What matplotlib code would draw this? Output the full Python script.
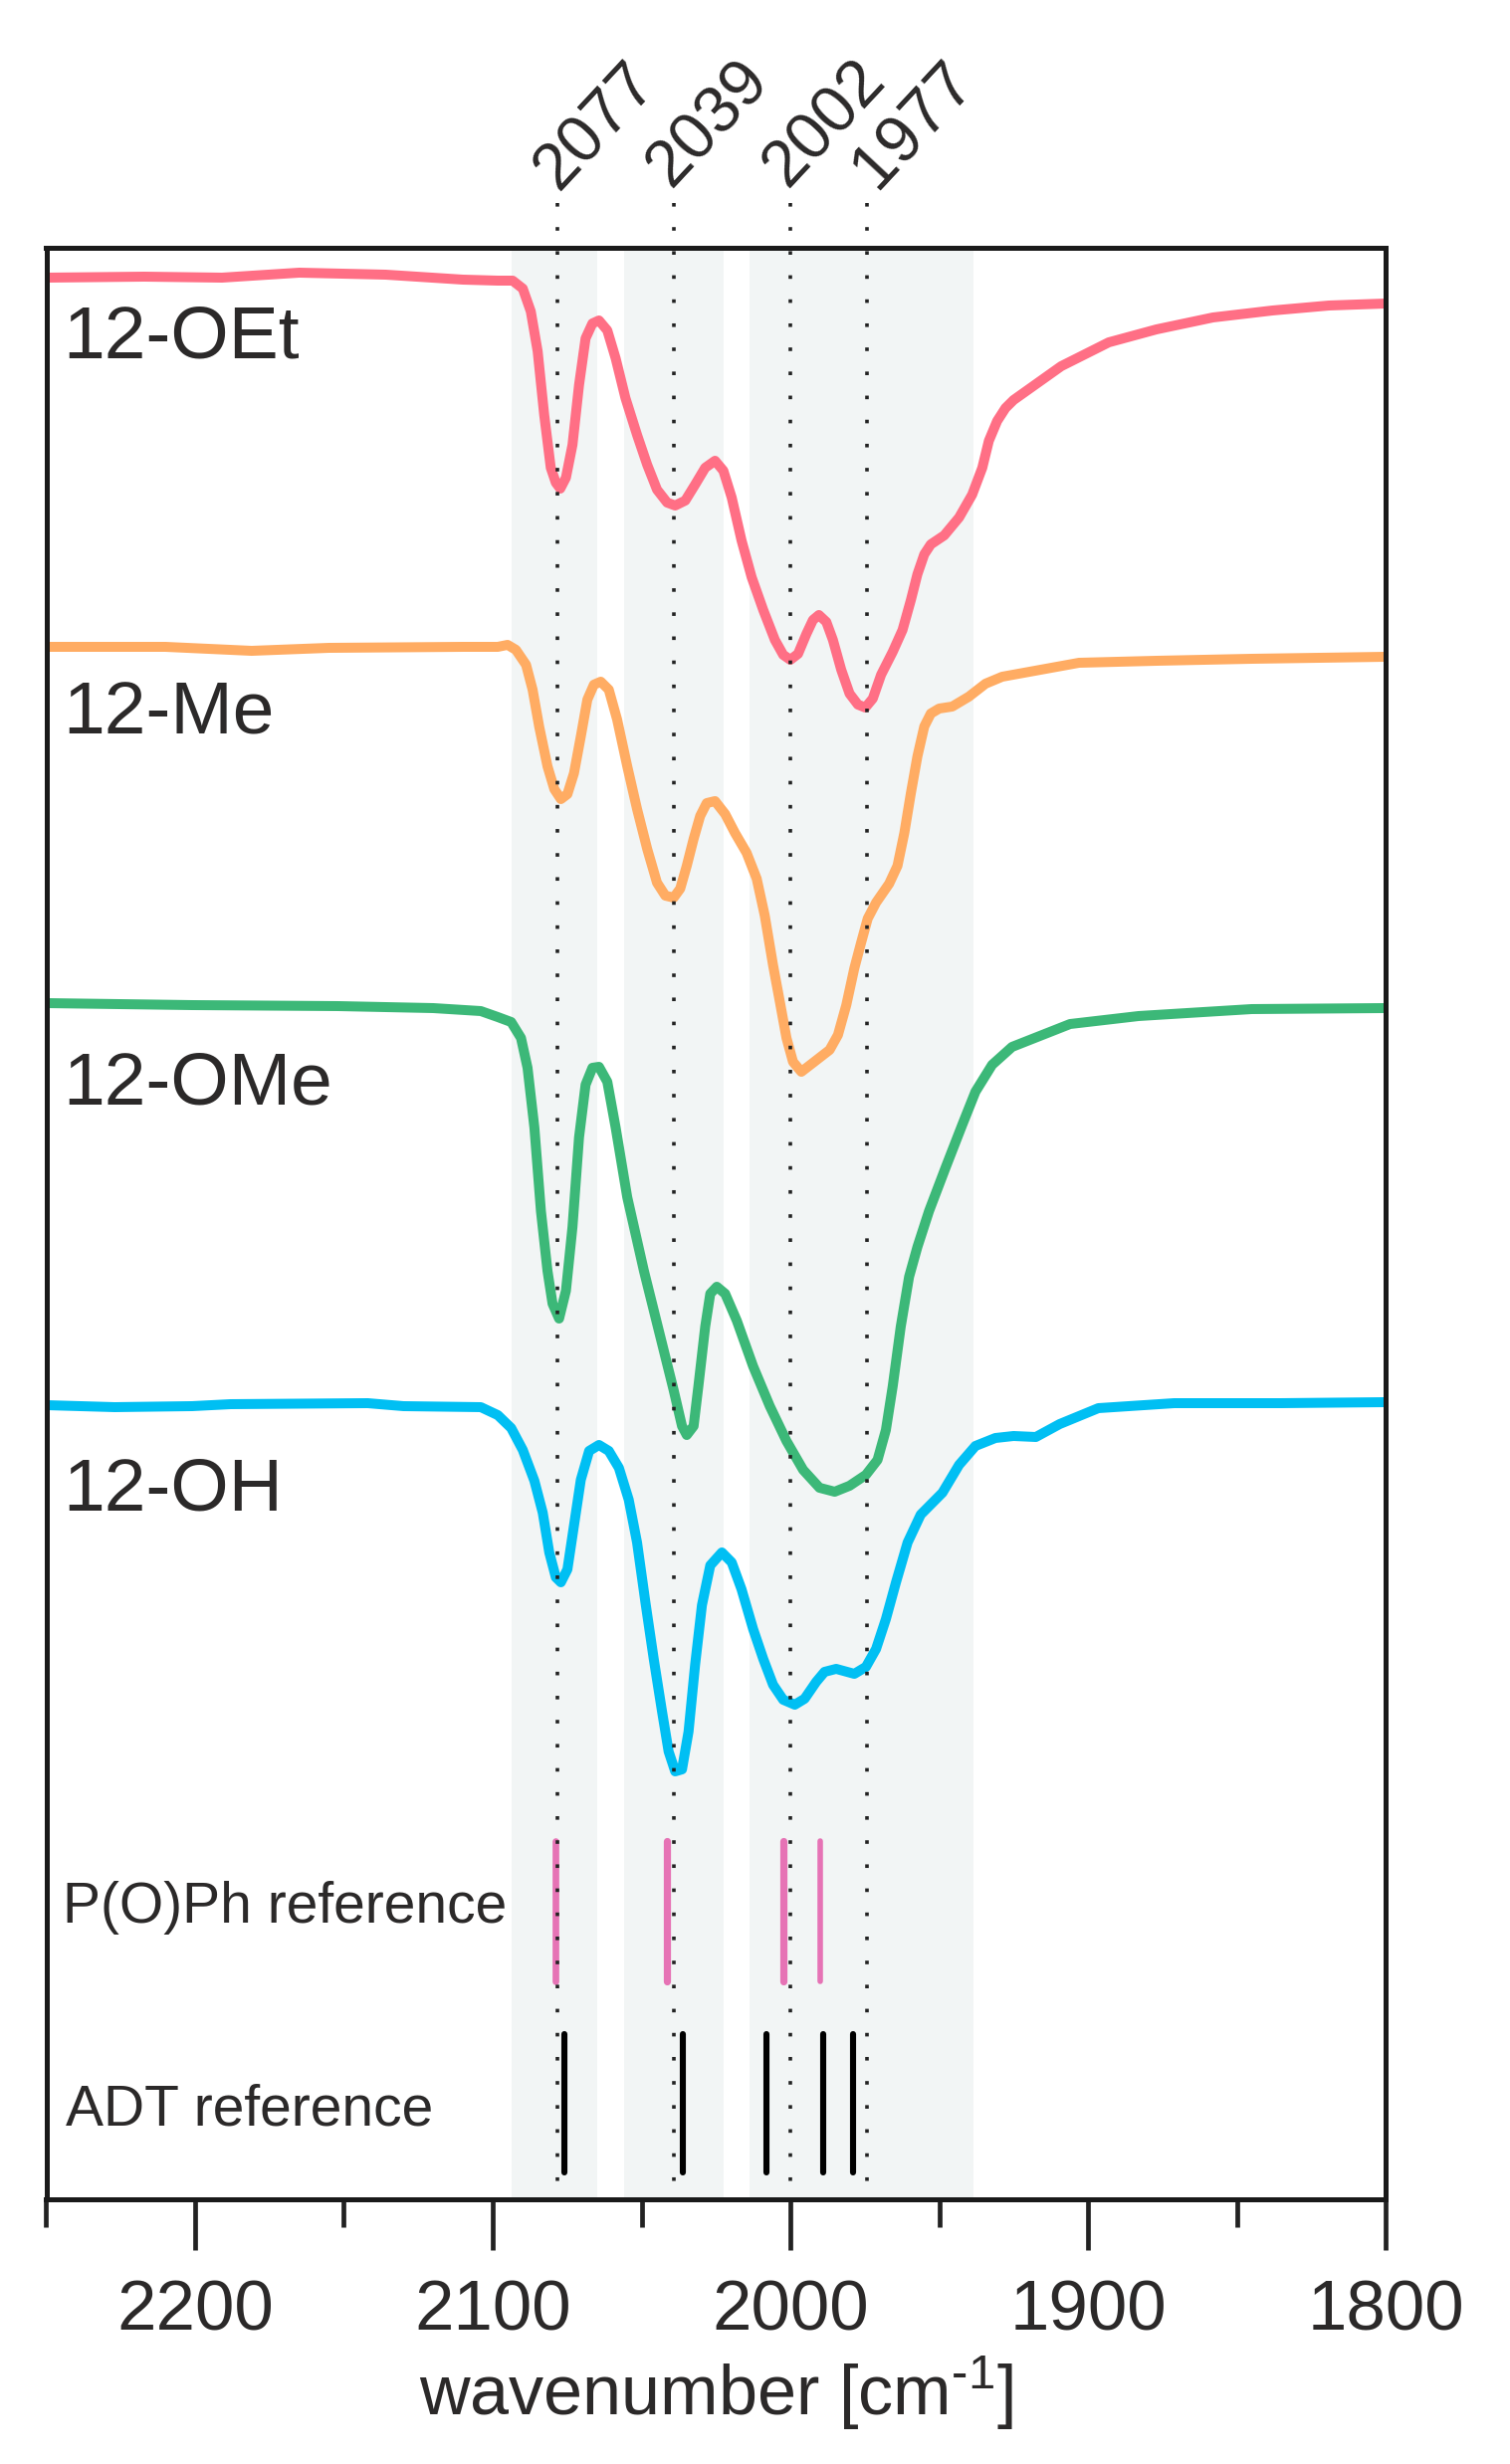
# -*- coding: utf-8 -*-
"""IR spectra of the 12-X series with reference sticks
"""
import matplotlib
matplotlib.use('Agg')
import matplotlib.pyplot as plt

plt.rcParams['font.family'] = ['Liberation Sans', 'DejaVu Sans']
plt.rcParams['mathtext.fontset'] = 'custom'
plt.rcParams['mathtext.rm'] = 'Liberation Sans'
plt.rcParams['mathtext.default'] = 'regular'

# spectra, y is an arbitrary depth scale that grows downwards
oet_x = [2250, 2217, 2191, 2165, 2136, 2110, 2098.3, 2093.3, 2089.9, 2087.2, 2084.9, 2082.7,
         2080.5, 2078.8, 2077.3, 2075.4, 2073.2, 2071, 2068.8, 2066.5, 2064.3, 2061.5, 2058.7,
         2055.4, 2051.5, 2048.1, 2044.8, 2041.4, 2038.7, 2035.3, 2032, 2028.6, 2025.3, 2022.5,
         2019.7, 2016.4, 2013, 2009.1, 2005.2, 2002.4, 2000, 1997.4, 1994.6, 1992.4, 1990.4,
         1987.9, 1985.7, 1982.9, 1980.1, 1977.3, 1974.8, 1972.3, 1969.5, 1965.6, 1962.3, 1959.5,
         1957.3, 1955, 1952.8, 1948.3, 1943.3, 1938.9, 1935.5, 1933.3, 1930.5, 1927.7, 1925,
         1909, 1893, 1877, 1858, 1838, 1819, 1800]
oet_y = [279, 278, 279, 274, 276, 281, 282, 282, 290, 313, 353, 417,
         470, 485, 491, 480, 447, 387, 340, 325, 322, 332, 360,
         400, 437, 467, 492, 505, 508, 503, 487, 470, 463, 473,
         500, 543, 580, 613, 643, 658, 663, 657, 637, 623, 618,
         625, 643, 673, 697, 708, 711, 702, 678, 655, 633, 603,
         577, 557, 547, 538, 520, 497, 470, 443, 423, 410, 402,
         368, 344, 331, 319, 312, 307, 305]

me_x = [2250, 2210, 2181, 2155, 2110, 2098.3, 2095, 2092.2, 2088.8, 2086.6, 2084.4, 2081.6,
        2079.3, 2077.1, 2074.9, 2072.7, 2070.4, 2068.2, 2066, 2063.7, 2061, 2058.2, 2054.8,
        2051.5, 2048.1, 2044.8, 2042, 2039.2, 2037, 2034.8, 2032.5, 2030.3, 2028.1, 2025.3,
        2021.9, 2018.6, 2014.7, 2011.3, 2008.6, 2005.8, 2003.5, 2001.3, 1999.1, 1996.3, 1992.4,
        1986.8, 1984, 1981.2, 1978.5, 1976.2, 1974, 1971.2, 1966.8, 1964, 1961.7, 1959.5,
        1957.3, 1955, 1952.8, 1950, 1945.6, 1940, 1934.4, 1928.8, 1903, 1877, 1845, 1800]
me_y = [650, 650, 654, 651, 650, 650, 648, 653, 668, 693, 730, 770,
        793, 803, 798, 777, 740, 703, 688, 685, 693, 723, 770,
        813, 853, 887, 900, 902, 893, 870, 843, 820, 807, 805,
        818, 837, 857, 883, 920, 970, 1007, 1043, 1067, 1077, 1068,
        1055, 1040, 1010, 973, 947, 923, 907, 888, 870, 837, 797,
        760, 730, 717, 712, 710, 700, 687, 680, 666, 664, 662, 660]

ome_x = [2250, 2201, 2152, 2120, 2104, 2098.3, 2093.8, 2090.5, 2088.3, 2086, 2083.8, 2081.6,
         2079.9, 2077.7, 2075.4, 2073.2, 2071, 2068.8, 2066.5, 2064.3, 2061.5, 2058.7, 2054.8,
         2049.2, 2043.7, 2039.2, 2036.4, 2034.8, 2032.5, 2030.9, 2028.6, 2026.9, 2024.7, 2021.9,
         2018, 2012.5, 2006.9, 2001.3, 1995.7, 1990.2, 1985.1, 1980.1, 1974.6, 1970.7, 1967.9,
         1965.6, 1962.9, 1960.1, 1957.3, 1953.4, 1947.8, 1942.2, 1937.8, 1932.2, 1925.5, 1906,
         1883, 1845, 1800]
ome_y = [1008, 1010, 1011, 1013, 1016, 1022, 1027, 1043, 1073, 1133, 1217, 1277,
         1310, 1325, 1297, 1233, 1143, 1090, 1073, 1072, 1087, 1133, 1203,
         1277, 1343, 1397, 1433, 1442, 1433, 1393, 1333, 1300, 1293, 1300,
         1327, 1373, 1413, 1448, 1477, 1495, 1499, 1493, 1482, 1467, 1437,
         1393, 1333, 1283, 1253, 1217, 1173, 1130, 1097, 1070, 1052, 1029,
         1021, 1014, 1013]

oh_x = [2250, 2227, 2201, 2188, 2142, 2130, 2104, 2098.3, 2093.8, 2089.9, 2086, 2083.2, 2081,
        2078.8, 2077.1, 2074.9, 2072.7, 2070.4, 2067.6, 2064.3, 2061, 2057.6, 2054.3, 2051.5,
        2048.7, 2045.9, 2043.1, 2040.9, 2038.7, 2036.4, 2034.2, 2032, 2029.7, 2026.9, 2023,
        2019.7, 2016.4, 2012.5, 2009.1, 2005.8, 2002.4, 1998.5, 1995.2, 1991.3, 1988.5, 1984.6,
        1978.5, 1974.6, 1971.2, 1967.9, 1964.5, 1960.6, 1956.2, 1948.9, 1943.3, 1937.8, 1931.1,
        1925, 1917.5, 1909.5, 1896.5, 1871, 1835, 1800]
oh_y = [1412, 1414, 1413, 1411, 1410, 1413, 1414, 1422, 1435, 1457, 1488, 1520, 1560,
        1585, 1590, 1577, 1533, 1487, 1458, 1452, 1458, 1475, 1507, 1550,
        1610, 1667, 1720, 1760, 1780, 1778, 1740, 1673, 1613, 1573, 1560,
        1570, 1597, 1637, 1667, 1693, 1708, 1713, 1707, 1690, 1680, 1677,
        1682, 1675, 1657, 1627, 1590, 1550, 1522, 1500, 1472, 1453, 1445,
        1443, 1444, 1431, 1415, 1410, 1410, 1409]

sample_names = ['12-OEt', '12-Me', '12-OMe', '12-OH']
sample_label_y = [360, 738, 1110, 1517]
sample_colors = ['#ff6f85', '#ffac63', '#3cb878', '#00bff3']

peak_wn = [2078.2, 2039.1, 2000, 1974.2]
peak_labels = ['2077', '2039', '2002', '1977']
label_wn = [2078, 2040, 2001, 1971]
label_y = [193, 190, 190, 192]

bands = [(2093.8, 2065), (2056, 2022.5), (2013.6, 1938.3)]
pooph_sticks = [2079, 2041.5, 2002.5, 1990]
pooph_widths = [4.8, 5.2, 5.2, 4]
adt_sticks = [2076, 2036, 2008, 1989, 1979]

major_ticks = [2200, 2100, 2000, 1900, 1800]
minor_ticks = [2250, 2150, 2050, 1950, 1850]

dark = '#2b2929'
y_bottom, y_top = 2210, 249  # same scale as the spectra

fig = plt.figure(figsize=(15.17, 24.76), dpi=100)
ax = fig.add_axes([46.5 / 1517, 1 - 2210 / 2476, 1345.5 / 1517, 1961 / 2476])
ax.set_xlim(2250, 1800)
ax.set_ylim(y_bottom, y_top)

# =================== GREY BANDS ===================

for left, right in bands:
    ax.axvspan(left, right, color='#f2f5f5', lw=0, zorder=0)

# =================== SPECTRA ===================

series = [(oet_x, oet_y), (me_x, me_y), (ome_x, ome_y), (oh_x, oh_y)]
for (xs, ys), name, color, yl in zip(series, sample_names, sample_colors, sample_label_y):
    ax.plot(xs, ys, color=color, lw=7.2, solid_joinstyle='round', zorder=2)
    ax.text(2244.5, yl, name, fontsize=54, color=dark, ha='left', va='baseline')

# =================== REFERENCE STICKS ===================

ax.vlines(pooph_sticks, 1850, 1991, color='#e673b5', lw=pooph_widths, capstyle='round', zorder=3)
ax.vlines(adt_sticks, 2044, 2183, color='black', lw=4.4, capstyle='round', zorder=3)
ax.text(2244.5, 1932, 'P(O)Ph reference', fontsize=41, color=dark, ha='left', va='baseline')
ax.text(2243.5, 2135, 'ADT reference', fontsize=41, color=dark, ha='left', va='baseline')

# =================== PEAK MARKERS ===================

for wn, lab, lx, ly in zip(peak_wn, peak_labels, label_wn, label_y):
    ax.plot([wn, wn], [204, 2196], color='#222222', lw=2.6, dashes=(1, 5.7),
            clip_on=False, zorder=4)
    ax.text(lx, ly, lab, fontsize=47.5, color=dark, rotation=47, rotation_mode='anchor',
            ha='left', va='baseline')

# =================== AXES ===================

ax.set_yticks([])
ax.set_xticks(major_ticks)
ax.set_xticks(minor_ticks, minor=True)
ax.set_xticklabels([str(t) for t in major_ticks])
ax.tick_params(axis='x', which='major', length=37, width=3.4, pad=21, labelsize=51,
               labelcolor=dark, color='#222222')
ax.tick_params(axis='x', which='minor', length=20, width=3.4, color='#222222')
for edge in ['top', 'left', 'bottom', 'right']:
    ax.spines[edge].set_linewidth(3.6)
    ax.spines[edge].set_color('#1a1a1a')
    ax.spines[edge].set_zorder(5)

ax.set_xlabel(r'wavenumber [cm$^{\text{-}1}$]', fontsize=50.5, color=dark, labelpad=6)

fig.savefig('out.png', dpi=100)
